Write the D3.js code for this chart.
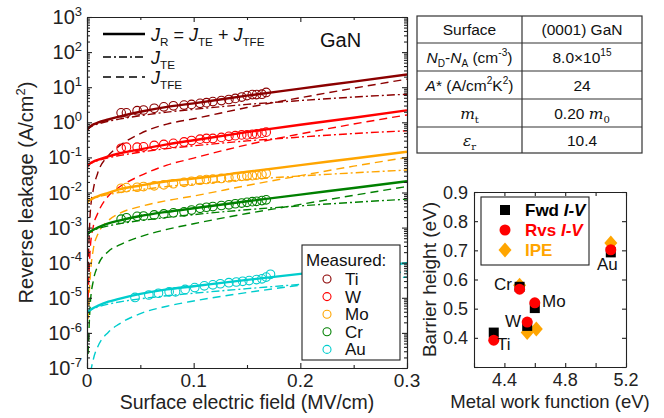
<!DOCTYPE html>
<html>
<head>
<meta charset="utf-8">
<script src="https://cdn.jsdelivr.net/npm/d3@7"></script>
<style>
body { margin: 0; background: #fff; }
svg { font-family: "Liberation Sans", Arial, Helvetica, sans-serif; }
</style>
</head>
<body>
<div id="chart"></div>
<script>
// field grid (MV/cm) for the model curves, values are log10(J / A cm^-2)
var fieldGrid = [0, 0.001, 0.003, 0.006, 0.01, 0.02, 0.03, 0.05, 0.075, 0.1, 0.15, 0.2, 0.25, 0.3];

var tiR   = [-0.24, -0.18, -0.12, -0.06, -0.01, 0.08, 0.16, 0.30, 0.44, 0.54, 0.76, 0.96, 1.16, 1.36];
var tiTE  = [-0.24, -0.18, -0.14, -0.09, -0.05, 0.03, 0.09, 0.19, 0.29, 0.37, 0.51, 0.62, 0.72, 0.80];
var tiTFE = [null, -4.2, -2.6, -1.9, -1.45, -0.95, -0.68, -0.32, -0.05, 0.10, 0.42, 0.70, 0.97, 1.23];

var wR   = [-1.28, -1.22, -1.17, -1.12, -1.07, -0.97, -0.89, -0.77, -0.63, -0.51, -0.28, -0.07, 0.13, 0.34];
var wTE  = [-1.28, -1.22, -1.18, -1.13, -1.09, -1.01, -0.95, -0.85, -0.75, -0.67, -0.53, -0.42, -0.32, -0.24];
var wTFE = [null, -5.0, -3.6, -2.95, -2.6, -2.1, -1.85, -1.52, -1.22, -1.02, -0.64, -0.33, -0.05, 0.21];

var moR   = [-2.30, -2.25, -2.21, -2.16, -2.11, -2.01, -1.91, -1.80, -1.68, -1.60, -1.41, -1.22, -1.03, -0.84];
var moTE  = [-2.30, -2.25, -2.21, -2.17, -2.13, -2.06, -2.00, -1.92, -1.83, -1.76, -1.63, -1.53, -1.44, -1.36];
var moTFE = [null, -5.6, -4.4, -3.6, -3.2, -2.8, -2.6, -2.4, -2.23, -2.1, -1.8, -1.52, -1.25, -1.0];

var crR   = [-3.22, -3.16, -3.12, -3.06, -3.00, -2.88, -2.80, -2.67, -2.55, -2.45, -2.25, -2.06, -1.87, -1.68];
var crTE  = [-3.22, -3.16, -3.12, -3.07, -3.03, -2.95, -2.89, -2.80, -2.71, -2.63, -2.49, -2.38, -2.28, -2.19];
var crTFE = [null, -6.6, -5.2, -4.5, -4.1, -3.68, -3.5, -3.26, -3.05, -2.89, -2.6, -2.34, -2.08, -1.83];

var auR   = [-5.45, -5.39, -5.35, -5.29, -5.23, -5.11, -5.03, -4.89, -4.76, -4.67, -4.49, -4.32, -4.16, -4.01];
var auTE  = [-5.45, -5.39, -5.35, -5.30, -5.26, -5.18, -5.12, -5.03, -4.94, -4.87, -4.74, -4.62, -4.51, -4.41];
var auTFE = [null, -8.6, -7.3, -6.75, -6.4, -5.98, -5.75, -5.45, -5.24, -5.09, -4.85, -4.64, -4.44, -4.25];

// measured points (log10 J)
var measE = [0.032, 0.037, 0.047, 0.053, 0.063, 0.072, 0.081, 0.091, 0.098, 0.106, 0.112, 0.118, 0.126, 0.133, 0.139, 0.145, 0.150, 0.155, 0.159, 0.164, 0.168];
var tiMeas = [0.27, 0.27, 0.33, 0.35, 0.40, 0.44, 0.47, 0.49, 0.51, 0.54, 0.56, 0.59, 0.62, 0.65, 0.68, 0.72, 0.76, 0.79, 0.79, 0.80, 0.85];
var wMeas  = [-0.74, -0.71, -0.71, -0.70, -0.66, -0.63, -0.60, -0.56, -0.52, -0.48, -0.46, -0.46, -0.43, -0.40, -0.38, -0.36, -0.36, -0.34, -0.33, -0.31, -0.28];
var moMeas = [-1.88, -1.86, -1.85, -1.83, -1.81, -1.78, -1.75, -1.71, -1.68, -1.65, -1.63, -1.62, -1.60, -1.58, -1.56, -1.54, -1.53, -1.52, -1.50, -1.49, -1.46];
var crMeas = [-2.76, -2.72, -2.68, -2.67, -2.64, -2.61, -2.58, -2.55, -2.50, -2.45, -2.42, -2.40, -2.37, -2.35, -2.32, -2.30, -2.28, -2.26, -2.25, -2.23, -2.21];
var measEAu = [0.045, 0.058, 0.067, 0.077, 0.083, 0.092, 0.101, 0.11, 0.118, 0.125, 0.133, 0.140, 0.146, 0.152, 0.159, 0.164, 0.168, 0.172];
var auMeas  = [-4.99, -4.92, -4.87, -4.83, -4.83, -4.76, -4.71, -4.66, -4.63, -4.60, -4.57, -4.55, -4.53, -4.51, -4.48, -4.46, -4.41, -4.33];

var metalNames  = ["Ti", "W", "Mo", "Cr", "Au"];
var metalColors = ["#8b0000", "#ff0000", "#ffa500", "#008000", "#00cdcd"];

// inset: barrier height vs work function
var insetMetals = ["Ti", "Cr", "Mo", "W", "Au"];
var workFunc    = [4.33, 4.50, 4.60, 4.55, 5.10];
var fwdIV       = [0.418, 0.575, 0.502, 0.441, 0.693];
var rvsIV       = [0.392, 0.567, 0.520, 0.454, 0.702];
var ipeWF       = [null, 4.50, 4.61, 4.55, 5.10];
var ipe         = [null, 0.580, 0.430, 0.418, 0.725];

var W = 664, H = 418;
var svg = d3.select("#chart").append("svg").attr("width", W).attr("height", H);

function rich(sel, parts, size) {
  var shift = 0;
  parts.forEach(function(p) {
    var t = sel.append("tspan").text(p.t);
    var target = p.sub ? size * 0.3 : (p.sup ? -size * 0.42 : 0);
    t.attr("dy", target - shift);
    shift = target;
    if (p.sub || p.sup) t.attr("font-size", size * 0.65);
    if (p.i) t.attr("font-style", "italic");
    if (p.f) t.attr("font-family", p.f);
    if (p.b) t.attr("font-weight", "bold");
  });
}

// ---------------- main chart ----------------
var m = {left: 87, right: 407, top: 17, bottom: 368};
var x = d3.scaleLinear().domain([0, 0.3]).range([m.left, m.right]);
var y = d3.scaleLog().domain([1e-7, 1e3]).range([m.bottom, m.top]);

svg.append("clipPath").attr("id", "clipMain").append("rect")
  .attr("x", m.left).attr("y", m.top)
  .attr("width", m.right - m.left).attr("height", m.bottom - m.top);

var plot = svg.append("g").attr("clip-path", "url(#clipMain)");

var line = d3.line()
  .defined(function(d) { return d[1] != null; })
  .x(function(d) { return x(d[0]); })
  .y(function(d) { return y(Math.pow(10, d[1])); })
  .curve(d3.curveMonotoneX);

var curves = [
  {R: tiR, TE: tiTE, TFE: tiTFE, mE: measE, mJ: tiMeas},
  {R: wR, TE: wTE, TFE: wTFE, mE: measE, mJ: wMeas},
  {R: moR, TE: moTE, TFE: moTFE, mE: measE, mJ: moMeas},
  {R: crR, TE: crTE, TFE: crTFE, mE: measE, mJ: crMeas},
  {R: auR, TE: auTE, TFE: auTFE, mE: measEAu, mJ: auMeas}
];

function pairs(xs, ys) { return xs.map(function(v, i) { return [v, ys[i]]; }); }

curves.forEach(function(c, i) {
  var col = metalColors[i];
  plot.append("path").attr("d", line(pairs(fieldGrid, c.TFE)))
    .attr("fill", "none").attr("stroke", col).attr("stroke-width", 1.4)
    .attr("stroke-dasharray", "8,5");
  plot.append("path").attr("d", line(pairs(fieldGrid, c.TE)))
    .attr("fill", "none").attr("stroke", col).attr("stroke-width", 1.4)
    .attr("stroke-dasharray", "8,3,2,3");
});
curves.forEach(function(c, i) {
  plot.append("path").attr("d", line(pairs(fieldGrid, c.R)))
    .attr("fill", "none").attr("stroke", metalColors[i]).attr("stroke-width", 2.4);
});
curves.forEach(function(c, i) {
  plot.selectAll(null).data(pairs(c.mE, c.mJ)).enter().append("circle")
    .attr("cx", function(d) { return x(d[0]); })
    .attr("cy", function(d) { return y(Math.pow(10, d[1])); })
    .attr("r", 4.3).attr("fill", "none")
    .attr("stroke", metalColors[i]).attr("stroke-width", 1.1);
});

// axes
var decades = d3.range(-7, 4);
var majorY = decades.map(function(k) { return Math.pow(10, k); });
var minorY = [];
decades.slice(0, -1).forEach(function(k) {
  d3.range(2, 10).forEach(function(j) { minorY.push(j * Math.pow(10, k)); });
});
var axisCol = "#222";

function styleAxis(g) {
  g.selectAll("path,line").attr("stroke", axisCol).attr("stroke-width", 1.1);
  g.selectAll("text").remove();
}
svg.append("g").attr("transform", "translate(" + m.left + ",0)")
  .call(d3.axisLeft(y).tickValues(majorY).tickSizeInner(-5).tickSizeOuter(0)).call(styleAxis);
svg.append("g").attr("transform", "translate(" + m.left + ",0)")
  .call(d3.axisLeft(y).tickValues(minorY).tickSizeInner(-3).tickSizeOuter(0)).call(styleAxis);
svg.append("g").attr("transform", "translate(" + m.right + ",0)")
  .call(d3.axisRight(y).tickValues(majorY).tickSizeInner(-5).tickSizeOuter(0)).call(styleAxis);
svg.append("g").attr("transform", "translate(" + m.right + ",0)")
  .call(d3.axisRight(y).tickValues(minorY).tickSizeInner(-3).tickSizeOuter(0)).call(styleAxis);

var xMajor = [0, 0.1, 0.2, 0.3], xMinor = [0.05, 0.15, 0.25];
svg.append("g").attr("transform", "translate(0," + m.bottom + ")")
  .call(d3.axisBottom(x).tickValues(xMajor).tickSizeInner(-5).tickSizeOuter(0)).call(styleAxis);
svg.append("g").attr("transform", "translate(0," + m.bottom + ")")
  .call(d3.axisBottom(x).tickValues(xMinor).tickSizeInner(-3).tickSizeOuter(0)).call(styleAxis);
svg.append("g").attr("transform", "translate(0," + m.top + ")")
  .call(d3.axisTop(x).tickValues(xMajor).tickSizeInner(-5).tickSizeOuter(0)).call(styleAxis);
svg.append("g").attr("transform", "translate(0," + m.top + ")")
  .call(d3.axisTop(x).tickValues(xMinor).tickSizeInner(-3).tickSizeOuter(0)).call(styleAxis);

decades.forEach(function(k) {
  var t = svg.append("text").attr("x", 82).attr("y", y(Math.pow(10, k)) + 7)
    .attr("text-anchor", "end").attr("font-size", 20).attr("fill", "#222");
  rich(t, [{t: "10"}, {t: String(k), sup: true}], 20);
});
xMajor.forEach(function(v) {
  svg.append("text").attr("x", x(v)).attr("y", 387).attr("text-anchor", "middle")
    .attr("font-size", 19).attr("fill", "#222").text(v === 0 ? "0" : String(v));
});
svg.append("text").attr("x", 247).attr("y", 409).attr("text-anchor", "middle")
  .attr("font-size", 19.5).attr("fill", "#222").text("Surface electric field (MV/cm)");
var yl = svg.append("text").attr("transform", "translate(33," + ((m.top + m.bottom) / 2) + ") rotate(-90)")
  .attr("text-anchor", "middle").attr("font-size", 20).attr("fill", "#222");
rich(yl, [{t: "Reverse leakage (A/cm"}, {t: "2", sup: true}, {t: ")"}], 20);

svg.append("text").attr("x", 320).attr("y", 47).attr("font-size", 20).attr("fill", "#111").text("GaN");

// model legend (top-left)
var legModel = [
  {y: 34, dash: null, parts: [{t: "J", i: true}, {t: "R", sub: true}, {t: " = "}, {t: "J", i: true}, {t: "TE", sub: true}, {t: " + "}, {t: "J", i: true}, {t: "TFE", sub: true}]},
  {y: 57, dash: "8,3,2,3", parts: [{t: "J", i: true}, {t: "TE", sub: true}]},
  {y: 77, dash: "8,5", parts: [{t: "J", i: true}, {t: "TFE", sub: true}]}
];
legModel.forEach(function(d) {
  svg.append("line").attr("x1", 103).attr("x2", 145).attr("y1", d.y).attr("y2", d.y)
    .attr("stroke", "#000").attr("stroke-width", d.dash ? 1.6 : 2.4)
    .attr("stroke-dasharray", d.dash);
  var t = svg.append("text").attr("x", 151).attr("y", d.y + 7).attr("font-size", 18).attr("fill", "#111");
  rich(t, d.parts, 18);
});

// measured legend
var lg = svg.append("g");
lg.append("rect").attr("x", 302).attr("y", 245).attr("width", 98).attr("height", 115)
  .attr("fill", "#fff").attr("stroke", "#222").attr("stroke-width", 1.1);
lg.append("text").attr("x", 306).attr("y", 266).attr("font-size", 17).attr("fill", "#111").text("Measured:");
metalNames.forEach(function(n, i) {
  var yy = 279 + i * 17.6;
  lg.append("circle").attr("cx", 327).attr("cy", yy).attr("r", 4)
    .attr("fill", "none").attr("stroke", metalColors[i]).attr("stroke-width", 1.1);
  lg.append("text").attr("x", 345).attr("y", yy + 6).attr("font-size", 17).attr("fill", "#111").text(n);
});

// ---------------- table ----------------
var tb = svg.append("g");
var tx0 = 417, tx1 = 522, tx2 = 642;
var rowY = [16, 43, 71, 99, 127, 153];
tb.append("rect").attr("x", tx0).attr("y", rowY[0]).attr("width", tx2 - tx0).attr("height", rowY[5] - rowY[0])
  .attr("fill", "none").attr("stroke", "#333").attr("stroke-width", 1.2);
rowY.slice(1, 5).forEach(function(v) {
  tb.append("line").attr("x1", tx0).attr("x2", tx2).attr("y1", v).attr("y2", v).attr("stroke", "#333").attr("stroke-width", 1.2);
});
tb.append("line").attr("x1", tx1).attr("x2", tx1).attr("y1", rowY[0]).attr("y2", rowY[5]).attr("stroke", "#333").attr("stroke-width", 1.2);

var serif = "'DejaVu Serif', 'Liberation Serif', serif";
var cellLeft = [
  [{t: "Surface"}],
  [{t: "N", i: true}, {t: "D", sub: true}, {t: "-"}, {t: "N", i: true}, {t: "A", sub: true}, {t: " (cm"}, {t: "-3", sup: true}, {t: ")"}],
  [{t: "A", i: true}, {t: "* (A/cm"}, {t: "2", sup: true}, {t: "K"}, {t: "2", sup: true}, {t: ")"}],
  [{t: "m", i: true, f: serif}, {t: "t", sub: true, f: serif}],
  [{t: "ε", i: true, f: serif}, {t: "r", sub: true, f: serif}]
];
var cellRight = [
  [{t: "(0001) GaN"}],
  [{t: "8.0×10"}, {t: "15", sup: true}],
  [{t: "24"}],
  [{t: "0.20 "}, {t: "m", i: true, f: serif}, {t: "0", sub: true, f: serif}],
  [{t: "10.4"}]
];
cellLeft.forEach(function(p, i) {
  var cy = (rowY[i] + rowY[i + 1]) / 2 + 5.5;
  var t = tb.append("text").attr("x", (tx0 + tx1) / 2).attr("y", cy).attr("text-anchor", "middle")
    .attr("font-size", 15.5).attr("fill", "#111");
  rich(t, p, 15.5);
  var t2 = tb.append("text").attr("x", (tx1 + tx2) / 2).attr("y", cy).attr("text-anchor", "middle")
    .attr("font-size", 15.5).attr("fill", "#111");
  rich(t2, cellRight[i], 15.5);
});

// ---------------- inset ----------------
var im = {left: 474, right: 626, top: 192, bottom: 367};
var ix = d3.scaleLinear().domain([4.2, 5.2]).range([im.left, im.right]);
var iy = d3.scaleLinear().domain([0.3, 0.9]).range([im.bottom, im.top]);

var ixTicks = [4.2, 4.4, 4.6, 4.8, 5.0, 5.2];
var iyTicks = [0.3, 0.4, 0.5, 0.6, 0.7, 0.8, 0.9];
svg.append("g").attr("transform", "translate(0," + im.bottom + ")")
  .call(d3.axisBottom(ix).tickValues(ixTicks).tickSizeInner(-4).tickSizeOuter(0)).call(styleAxis);
svg.append("g").attr("transform", "translate(0," + im.top + ")")
  .call(d3.axisTop(ix).tickValues(ixTicks).tickSizeInner(-4).tickSizeOuter(0)).call(styleAxis);
svg.append("g").attr("transform", "translate(" + im.left + ",0)")
  .call(d3.axisLeft(iy).tickValues(iyTicks).tickSizeInner(-4).tickSizeOuter(0)).call(styleAxis);
svg.append("g").attr("transform", "translate(" + im.right + ",0)")
  .call(d3.axisRight(iy).tickValues(iyTicks).tickSizeInner(-4).tickSizeOuter(0)).call(styleAxis);

[4.4, 4.8, 5.2].forEach(function(v) {
  svg.append("text").attr("x", ix(v)).attr("y", 386).attr("text-anchor", "middle")
    .attr("font-size", 18).attr("fill", "#222").text(v.toFixed(1));
});
iyTicks.slice(1).forEach(function(v) {
  svg.append("text").attr("x", 468).attr("y", iy(v) + 6.5).attr("text-anchor", "end")
    .attr("font-size", 18).attr("fill", "#222").text(v.toFixed(1));
});
svg.append("text").attr("x", 550).attr("y", 408).attr("text-anchor", "middle")
  .attr("font-size", 18.5).attr("fill", "#222").text("Metal work function (eV)");
svg.append("text").attr("transform", "translate(436," + ((im.top + im.bottom) / 2) + ") rotate(-90)")
  .attr("text-anchor", "middle").attr("font-size", 19).attr("fill", "#222").text("Barrier height (eV)");

function diamondPath(cx, cy) {
  var p = d3.path();
  p.moveTo(cx, cy - 7.5); p.lineTo(cx + 6.5, cy); p.lineTo(cx, cy + 7.5); p.lineTo(cx - 6.5, cy); p.closePath();
  return p.toString();
}

var ig = svg.append("g");
ipe.forEach(function(v, i) {
  if (v == null) return;
  ig.append("path").attr("d", diamondPath(ix(ipeWF[i]), iy(v))).attr("fill", "#ffa500");
});
fwdIV.forEach(function(v, i) {
  ig.append("rect").attr("x", ix(workFunc[i]) - 5).attr("y", iy(v) - 5)
    .attr("width", 10).attr("height", 10).attr("fill", "#000");
});
rvsIV.forEach(function(v, i) {
  ig.append("circle").attr("cx", ix(workFunc[i])).attr("cy", iy(v)).attr("r", 5.5).attr("fill", "#ff0000");
});

var ptLabels = [
  {n: "Ti", x: 497, y: 350, a: "start"},
  {n: "Cr", x: 512, y: 290, a: "end"},
  {n: "Mo", x: 542, y: 307, a: "start"},
  {n: "W", x: 521, y: 327, a: "end"},
  {n: "Au", x: 597, y: 270, a: "start"}
];
ptLabels.forEach(function(d) {
  svg.append("text").attr("x", d.x).attr("y", d.y).attr("text-anchor", d.a)
    .attr("font-size", 17).attr("fill", "#111").text(d.n);
});

// inset legend
var il = svg.append("g");
il.append("rect").attr("x", 481).attr("y", 197).attr("width", 108).attr("height", 68)
  .attr("fill", "#fff").attr("stroke", "#222").attr("stroke-width", 1.1);
il.append("rect").attr("x", 500).attr("y", 205).attr("width", 10).attr("height", 10).attr("fill", "#000");
il.append("circle").attr("cx", 505).attr("cy", 230).attr("r", 5.5).attr("fill", "#ff0000");
il.append("path").attr("d", diamondPath(505, 250)).attr("fill", "#ffa500");
var l1 = il.append("text").attr("x", 525).attr("y", 216).attr("font-size", 17).attr("font-weight", "bold").attr("fill", "#000");
rich(l1, [{t: "Fwd "}, {t: "I-V", i: true}], 17);
var l2 = il.append("text").attr("x", 525).attr("y", 236).attr("font-size", 17).attr("font-weight", "bold").attr("fill", "#ff0000");
rich(l2, [{t: "Rvs "}, {t: "I-V", i: true}], 17);
il.append("text").attr("x", 525).attr("y", 256).attr("font-size", 17).attr("font-weight", "bold").attr("fill", "#ffa500").text("IPE");
</script>
</body>
</html>
